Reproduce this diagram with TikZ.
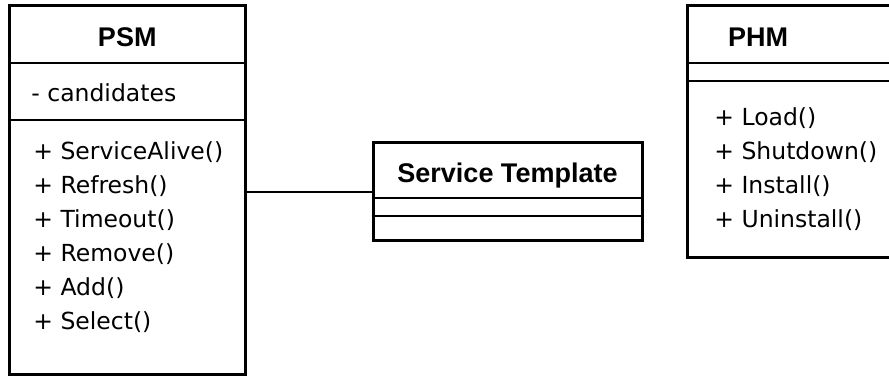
\documentclass[tikz,border=0pt]{standalone}
\usepackage{fontspec}
\setmainfont{DejaVu Sans}
\newfontfamily\titlefont{Liberation Sans}
\begin{document}
\begin{tikzpicture}[x=0.5pt,y=-0.5pt,
  classbox/.style={draw=black, line width=1.5pt, fill=white, inner sep=0pt},
  divider/.style={draw=black, line width=1pt},
  link/.style={draw=black, line width=0.9pt},
  classname/.style={font=\titlefont\bfseries\fontsize{13.5pt}{15pt}\selectfont, inner sep=0pt, anchor=base},
  member/.style={font=\fontsize{11.75pt}{14pt}\selectfont, inner sep=0pt, anchor=base west}]
\useasboundingbox (0,0) rectangle (889,378);
\clip (0,0) rectangle (889,378);

% class boxes
\node[classbox, minimum width=117.75pt, minimum height=184.5pt] (psm) at (127.25,190.5) {};
\node[classbox, minimum width=106.5pt, minimum height=126pt] (phm) at (793.5,132) {};
\node[classbox, minimum width=134.5pt, minimum height=49pt] (st) at (507.5,192) {};

% compartment separators
\draw[divider] (psm.west |- 0,63) -- (psm.east |- 0,63);
\draw[divider] (psm.west |- 0,120) -- (psm.east |- 0,120);
\draw[divider] (phm.west |- 0,63) -- (phm.east |- 0,63);
\draw[divider] (phm.west |- 0,81) -- (phm.east |- 0,81);
\draw[divider] (st.west |- 0,198) -- (st.east |- 0,198);
\draw[divider] (st.west |- 0,216) -- (st.east |- 0,216);

% association
\draw[link] (psm.east |- st.west) -- (st.west);

% PSM
\node[classname] (psmname) at (127.25,47) {PSM};
\node[member] (psma1) at (31,102) {- candidates};
\node[member] (psmm1) at (33,160) {+ ServiceAlive()};
\node[member] (psmm2) at (33,194) {+ Refresh()};
\node[member] (psmm3) at (33,228) {+ Timeout()};
\node[member] (psmm4) at (33,262) {+ Remove()};
\node[member] (psmm5) at (33,296) {+ Add()};
\node[member] (psmm6) at (33,330) {+ Select()};

% Service Template
\node[classname] (stname) at (507.5,183) {Service Template};

% PHM
\node[classname] (phmname) at (758,47) {PHM};
\node[member] (phmm1) at (714,126) {+ Load()};
\node[member] (phmm2) at (714,160) {+ Shutdown()};
\node[member] (phmm3) at (714,194) {+ Install()};
\node[member] (phmm4) at (714,228) {+ Uninstall()};
\end{tikzpicture}
\end{document}
